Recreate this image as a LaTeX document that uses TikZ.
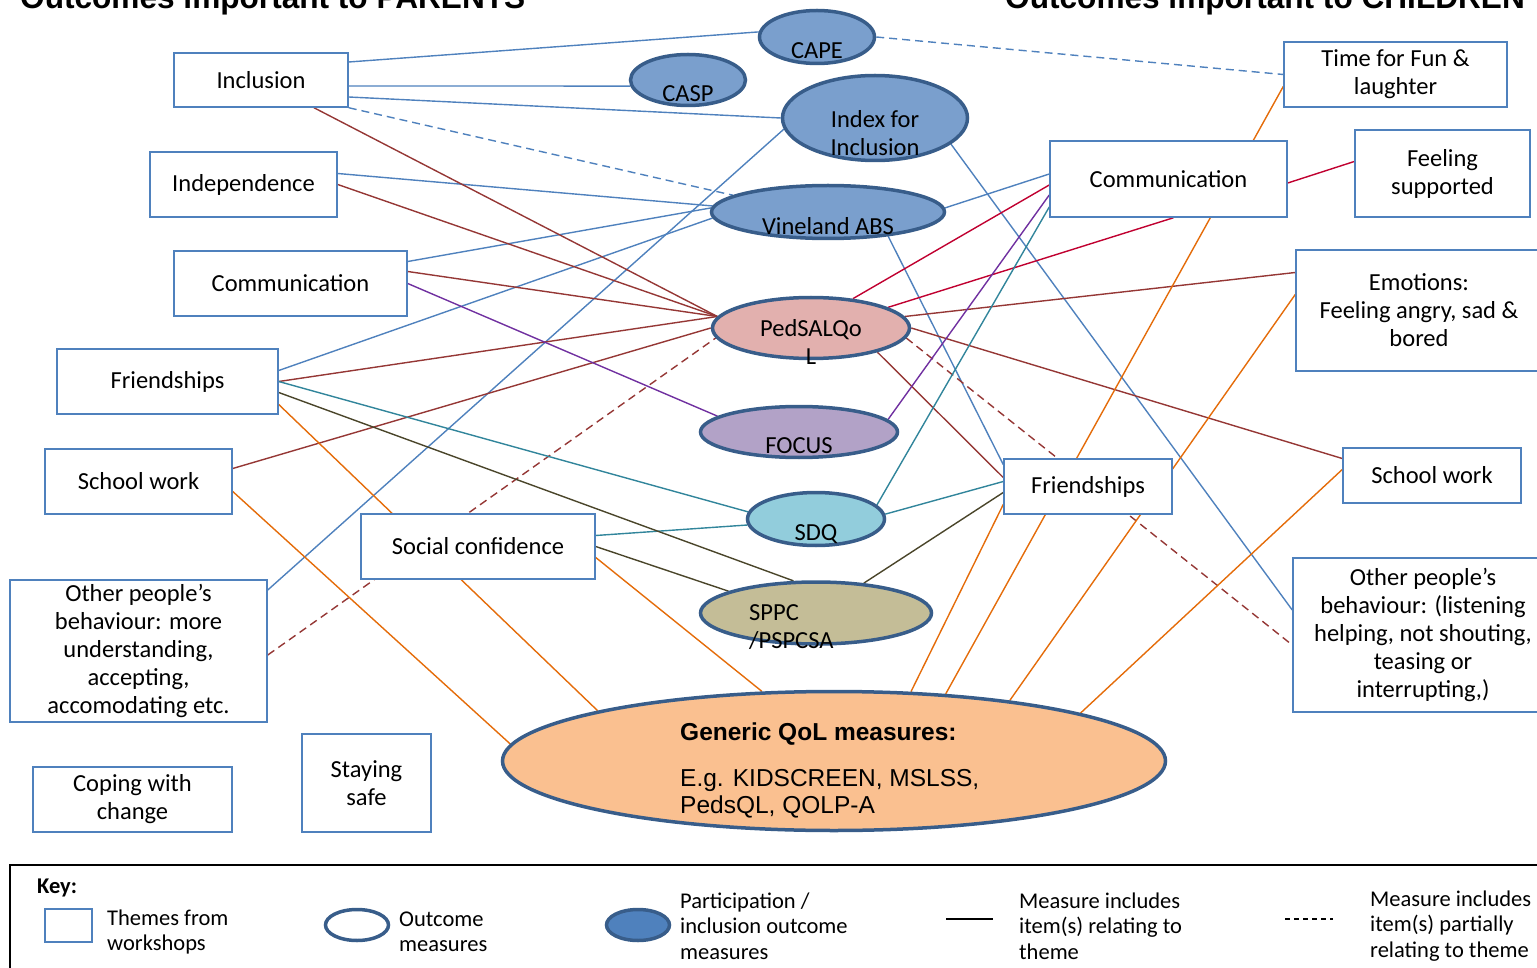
\documentclass[tikz,border=0pt]{standalone}
\usepackage{fontspec}
\setmainfont{Carlito}
\newfontfamily\arialfont{Liberation Sans}
\usetikzlibrary{shapes.geometric,backgrounds}

\definecolor{boxblue}{RGB}{79,129,189}
\definecolor{ringblue}{RGB}{56,93,138}
\definecolor{partblue}{RGB}{122,159,205}
\definecolor{keyblue}{RGB}{79,129,189}
\definecolor{pedpink}{RGB}{226,176,174}
\definecolor{focuspurple}{RGB}{178,162,199}
\definecolor{sdqcyan}{RGB}{146,205,220}
\definecolor{sppckhaki}{RGB}{196,189,151}
\definecolor{genpeach}{RGB}{250,192,144}
\definecolor{linkblue}{RGB}{79,129,189}
\definecolor{linkred}{RGB}{149,55,53}
\definecolor{linkcrimson}{RGB}{192,0,48}
\definecolor{linkpurple}{RGB}{112,48,160}
\definecolor{linkteal}{RGB}{49,133,155}
\definecolor{linkolive}{RGB}{74,69,42}
\definecolor{linkorange}{RGB}{228,108,10}

\newcommand{\themesize}{\fontsize{24.5}{28}\selectfont}
\newcommand{\keysize}{\fontsize{22.5}{25.5}\selectfont}

\tikzset{
  theme/.style={draw=boxblue, line width=1.5pt, fill=white, inner sep=0pt, align=center, font=\themesize},
  meas/.style={ellipse, draw=ringblue, line width=3.5pt, inner sep=0pt},
  mlab/.style={inner sep=0pt, align=center, font=\themesize},
  link/.style={line width=1.4pt},
  partly/.style={line width=1.4pt, dash pattern=on 8pt off 5pt},
  keytext/.style={anchor=west, inner sep=0pt, align=left, font=\keysize},
}

\begin{document}
\begin{tikzpicture}[x=1pt, y=-1pt]
      \useasboundingbox (0,0) rectangle (1537,968);
      \node[anchor=base west, inner sep=0pt, font=\arialfont\bfseries\fontsize{31.6}{36}\selectfont] (ttlparents) at (20,9) {Outcomes important to PARENTS};
      \node[anchor=base west, inner sep=0pt, font=\arialfont\bfseries\fontsize{31.6}{36}\selectfont] (ttlchildren) at (1005,9) {Outcomes important to CHILDREN};

      \node[theme, minimum width=174pt, minimum height=54pt] (incl) at (261,80) {Inclusion};
      \node[theme, minimum width=187pt, minimum height=65pt] (indep) at (243.5,184.5) {Independence};
      \node[theme, minimum width=233pt, minimum height=65pt] (commL) at (290.5,283.5) {Communication};
      \node[theme, minimum width=221pt, minimum height=65pt] (frL) at (167.5,381.5) {Friendships};
      \node[theme, minimum width=187pt, minimum height=65pt] (swL) at (138.5,481.5) {School work};
      \node[theme, minimum width=234pt, minimum height=65pt] (soc) at (478,546.5) {Social confidence};
      \node[theme, minimum width=257pt, minimum height=142pt] (othL) at (138.5,651) {Other people’s\\behaviour: more\\understanding,\\accepting,\\accomodating etc.};
      \node[theme, minimum width=199pt, minimum height=65pt] (cope) at (132.5,799.5) {Coping with\\change};
      \node[theme, minimum width=129pt, minimum height=98pt] (safe) at (366.5,783) {Staying\\safe};

      \node[theme, minimum width=223pt, minimum height=65pt] (fun) at (1395.5,74.5) {Time for Fun \&\\laughter};
      \node[theme, minimum width=237pt, minimum height=76pt] (commR) at (1168.5,179) {Communication};
      \node[theme, minimum width=175pt, minimum height=87pt] (feel) at (1442.5,173.5) {Feeling\\supported};
      \node[theme, minimum width=246pt, minimum height=121pt] (emo) at (1419,310.5) {Emotions:\\Feeling angry, sad \&\\bored};
      \node[theme, minimum width=168pt, minimum height=55pt] (frR) at (1088,486.5) {Friendships};
      \node[theme, minimum width=178pt, minimum height=55pt] (swR) at (1432,475.5) {School work};
      \node[theme, minimum width=260pt, minimum height=154pt] (othR) at (1423,635) {Other people’s\\behaviour: (listening\\helping, not shouting,\\teasing or\\interrupting,)};

      \node[meas, fill=partblue, minimum width=115pt, minimum height=53pt] (cape) at (817,37) {};
      \node[meas, fill=partblue, minimum width=115pt, minimum height=51pt] (casp) at (688,80) {};
      \node[meas, fill=partblue, minimum width=185pt, minimum height=85pt] (index) at (875,118) {};
      \node[meas, fill=partblue, minimum width=233pt, minimum height=53pt] (vine) at (828,212) {};
      \node[meas, fill=pedpink, minimum width=197pt, minimum height=61pt] (ped) at (811,328) {};
      \node[meas, fill=focuspurple, minimum width=197pt, minimum height=51pt] (focus) at (799,432) {};
      \node[meas, fill=sdqcyan, minimum width=137pt, minimum height=53pt] (sdq) at (816,519) {};
      \node[meas, fill=sppckhaki, minimum width=231pt, minimum height=62pt] (sppc) at (816,613) {};
      \node[meas, fill=genpeach, minimum width=663pt, minimum height=139pt] (gen) at (834,761) {};

      \node[mlab] (capetxt) at ([yshift=-14pt]cape.center) {CAPE};
      \node[mlab] (casptxt) at ([yshift=-14pt]casp.center) {CASP};
      \node[mlab] (indextxt) at ([yshift=-15pt]index.center) {Index for\\Inclusion};
      \node[mlab] (vinetxt) at ([yshift=-14pt]vine.center) {Vineland ABS};
      \node[mlab] (pedtxt) at ([yshift=-14pt]ped.center) {PedSALQo\\L};
      \node[mlab] (focustxt) at ([yshift=-14pt]focus.center) {FOCUS};
      \node[mlab] (sdqtxt) at ([yshift=-15pt]sdq.center) {SDQ};
      \node[mlab, align=left, anchor=west] (sppctxt) at (749,627) {SPPC\\/PSPCSA};
      \node[anchor=west, inner sep=0pt, align=left, font=\arialfont\fontsize{24.5}{27}\selectfont] (gentxt) at (680,770) {\textbf{Generic QoL measures:}\\[19pt]E.g. KIDSCREEN, MSLSS,\\PedsQL, QOLP-A};

      \begin{pgfonlayer}{background}
        \draw[link, linkblue] ([yshift=18pt]incl.east) -- (cape.175);
        \draw[link, linkblue] ([yshift=-6pt]incl.east) -- (casp.186);
        \draw[link, linkblue] ([yshift=-17pt]incl.east) -- (index.west);
        \draw[link, linkblue] ([yshift=11pt]indep.east) -- (vine.177);
        \draw[link, linkblue] ([yshift=22pt]commL.east) -- (vine.178);
        \draw[link, linkblue] ([yshift=11pt]frL.east) -- (vine.183);
        \draw[link, linkblue] ([yshift=61pt]othL.east) -- (index.187);
        \draw[link, linkblue] (index.-19) -- ([yshift=25pt]othR.west);
        \draw[link, linkblue] (vine.2) -- ([yshift=5pt]commR.west);
        \draw[link, linkblue] (vine.-22) -- ([yshift=22pt]frR.west);
        \draw[partly, linkblue] (incl.south east) -- (vine.170);
        \draw[partly, linkblue] (cape.east) -- (fun.west);

        \draw[link, linkred] ([xshift=53pt]incl.south) -- (ped.173);
        \draw[link, linkred] (indep.east) -- (ped.173);
        \draw[link, linkred] ([yshift=12pt]commL.east) -- (ped.173);
        \draw[link, linkred] (frL.east) -- (ped.173);
        \draw[link, linkred] ([yshift=13pt]swL.east) -- (ped.west);
        \draw[link, linkred] (ped.7) -- ([yshift=38pt]emo.west);
        \draw[link, linkred] (ped.east) -- ([yshift=17pt]swR.west);
        \draw[link, linkred] (ped.-20) -- ([yshift=9pt]frR.west);
        \draw[partly, linkred] ([yshift=-4pt]othL.east) -- (ped.186);
        \draw[partly, linkred] (ped.-6) -- ([yshift=-10pt]othR.west);

        \draw[link, linkcrimson] (ped.35) -- ([yshift=-6pt]commR.west);
        \draw[link, linkcrimson] (ped.15) -- ([xshift=5pt]commR.south);
        \draw[link, linkcrimson] ([yshift=-4pt]commR.east) -- ([yshift=12pt]feel.west);

        \draw[link, linkpurple] (commL.east) -- (focus.169);
        \draw[link, linkpurple] (focus.8) -- ([yshift=-16pt]commR.west);

        \draw[link, linkteal] (frL.east) -- (sdq.174);
        \draw[link, linkteal] ([yshift=11pt]soc.east) -- (sdq.185);
        \draw[link, linkteal] (sdq.13) -- ([yshift=-28pt]commR.west);
        \draw[link, linkteal] (sdq.4) -- ([yshift=5pt]frR.west);

        \draw[link, linkolive] ([yshift=-11pt]frL.east) -- (sppc.125);
        \draw[link, linkolive] (soc.east) -- (sppc.166);
        \draw[link, linkolive] (sppc.32) -- ([yshift=-6pt]frR.west);

        \draw[link, linkorange] ([yshift=-23pt]frL.east) -- (gen.168);
        \draw[link, linkorange] ([yshift=-10pt]swL.east) -- (gen.177);
        \draw[link, linkorange] ([yshift=-11pt]soc.east) -- (gen.136);
        \draw[link, linkorange] (gen.42) -- ([yshift=-18pt]frR.west);
        \draw[link, linkorange] (gen.31) -- ([yshift=-12pt]fun.west);
        \draw[link, linkorange] (gen.19) -- ([yshift=16pt]emo.west);
        \draw[link, linkorange] (gen.11) -- ([yshift=6pt]swR.west);
      \end{pgfonlayer}

      \draw[line width=1.5pt] (10,865) rectangle (1560,990);
      \node[anchor=west, inner sep=0pt, font=\keysize\bfseries] (keyttl) at (37,888) {Key:};
      \node[draw=boxblue, line width=1.5pt, inner sep=0pt, minimum width=47pt, minimum height=33pt] (keybox) at (68.5,925.5) {};
      \node[keytext] (keythemes) at (107,932) {Themes from\\workshops};
      \node[meas, fill=white, minimum width=63pt, minimum height=31pt] (keyring) at (357,925) {};
      \node[keytext] (keyoutcome) at (399,932) {Outcome\\measures};
      \node[meas, fill=keyblue, minimum width=63pt, minimum height=31pt] (keyfill) at (638,925) {};
      \node[keytext] (keypart) at (680,926) {Participation /\\inclusion outcome\\measures};
      \coordinate (solidA) at (946,919);
      \coordinate (solidB) at (993,919);
      \draw[line width=1.5pt] (solidA) -- (solidB);
      \node[keytext] (keysolid) at (1019,926) {Measure includes\\item(s) relating to\\theme};
      \coordinate (dashA) at (1285,919);
      \coordinate (dashB) at (1333,919);
      \draw[line width=1.5pt, dash pattern=on 5pt off 4pt] (dashA) -- (dashB);
      \node[keytext] (keydash) at (1370,926) {Measure includes\\item(s) partially\\relating to theme};
    \end{tikzpicture}
\end{document}
